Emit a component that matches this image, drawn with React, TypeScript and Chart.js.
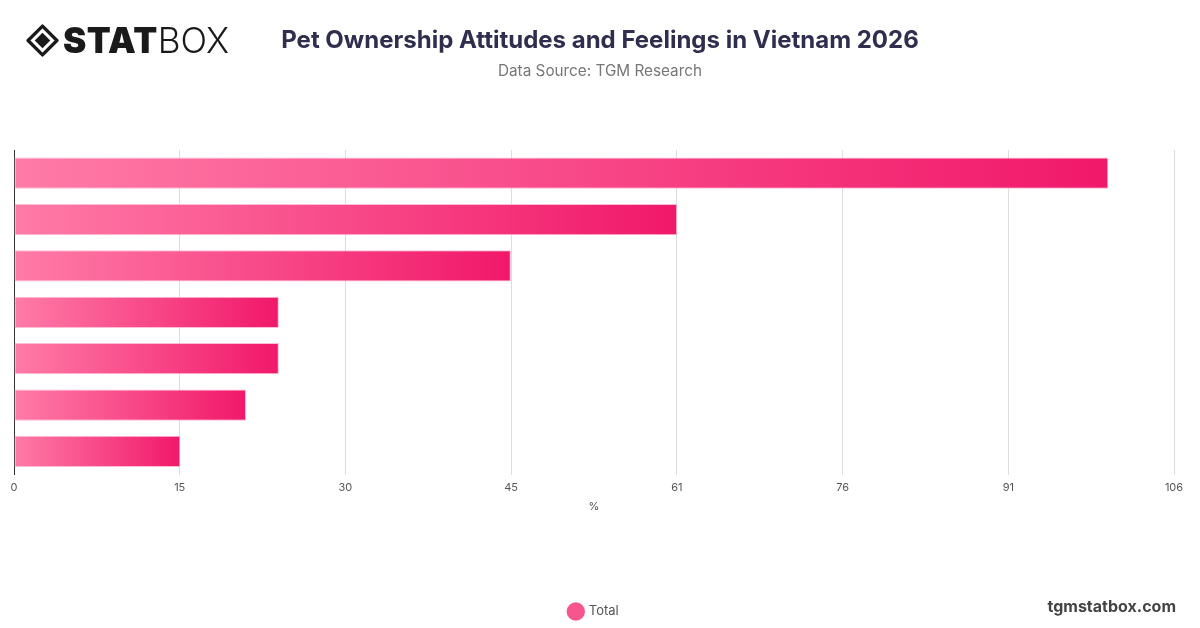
import React, { useEffect, useRef } from "react";
import { Chart, registerables } from "chart.js";

Chart.register(...registerables);

const categories = [
  "Pets are part of the family",
  "Pets reduce stress",
  "Pets bring happiness",
  "Pets provide companionship",
  "Pets make me more active",
  "Pets help socialising",
  "Pets are a responsibility",
];
const totalValues = [100, 60.6, 45.4, 24.2, 24.2, 21.2, 15.2];
const seriesLabel = "Total";
const axisMax = 106;
const tickCount = 7;

export default function App() {
  const canvasRef = useRef<HTMLCanvasElement | null>(null);

  useEffect(() => {
    document.body.style.margin = "0";
    const canvas = canvasRef.current;
    if (!canvas) return;
    const chart = new Chart(canvas, {
      type: "bar",
      data: {
        labels: categories,
        datasets: [
          {
            label: seriesLabel,
            data: totalValues,
            backgroundColor: (ctx: any) => {
              const c = ctx.chart;
              const xs = c.scales && c.scales.x;
              if (!xs || ctx.type !== "data") return "#f7558e";
              const v = ctx.raw as number;
              const x0 = xs.getPixelForValue(0);
              const x1 = xs.getPixelForValue(v);
              if (!isFinite(x0) || !isFinite(x1) || x1 <= x0) return "#f7558e";
              const g = c.ctx.createLinearGradient(x0, 0, x1, 0);
              g.addColorStop(0, "#ff7ba7");
              g.addColorStop(1, "#f1186a");
              return g;
            },
            borderColor: "rgba(255,160,195,0.7)",
            borderWidth: 1,
            borderSkipped: false,
            barPercentage: 0.9,
            categoryPercentage: 0.75,
          },
        ],
      },
      options: {
        indexAxis: "y",
        animation: false,
        responsive: false,
        maintainAspectRatio: false,
        layout: { padding: { top: 150, left: 14, right: 26, bottom: 0 } },
        scales: {
          x: {
            min: 0,
            max: axisMax,
            ticks: {
              stepSize: axisMax / tickCount,
              callback: (v: any) => String(Math.round(Number(v))),
              color: "#555",
              font: { family: "Inter, 'Noto Sans', sans-serif", size: 11 },
              padding: 6,
              maxRotation: 0,
            },
            grid: { color: "#dedede", drawTicks: false },
            border: { display: false },
            title: {
              display: true,
              text: "%",
              color: "#555",
              font: { family: "Inter, 'Noto Sans', sans-serif", size: 11 },
              padding: { top: 0, bottom: 82 },
            },
          },
          y: {
            ticks: { display: false },
            grid: { display: false, drawTicks: false },
            border: { display: true, color: "#333", width: 1 },
          },
        },
        plugins: {
          legend: {
            position: "bottom",
            labels: {
              usePointStyle: true,
              pointStyle: "circle",
              boxWidth: 13,
              boxHeight: 13,
              padding: 10,
              color: "#555",
              font: { family: "Inter, 'Noto Sans', sans-serif", size: 13 },
              generateLabels: () => [
                {
                  text: seriesLabel,
                  fillStyle: "#f7558e",
                  strokeStyle: "#f7558e",
                  lineWidth: 0,
                  pointStyle: "circle",
                  hidden: false,
                  datasetIndex: 0,
                  fontColor: "#555",
                },
              ],
            },
          },
          tooltip: { enabled: false },
        },
      },
    } as any);
    return () => chart.destroy();
  }, []);

  return (
    <div
      style={{
        position: "relative",
        width: 1200,
        height: 628,
        background: "#fff",
        overflow: "hidden",
        fontFamily: "Inter, 'Noto Sans', sans-serif",
      }}
    >
      <canvas
        ref={canvasRef}
        width={1200}
        height={628}
        style={{ position: "absolute", left: 0, top: 0, width: 1200, height: 628 }}
      />
      <div
        style={{
          position: "absolute",
          left: 26,
          top: 22,
          height: 36,
          display: "flex",
          alignItems: "center",
        }}
      >
        <svg width="33" height="33" viewBox="0 0 32 32" style={{ marginRight: 4 }}>
          <path
            d="M16 2 L30 16 L16 30 L2 16 Z"
            fill="none"
            stroke="#1a1a1a"
            strokeWidth="3.2"
            strokeLinejoin="round"
          />
          <path d="M16 8.5 L23.5 16 L16 23.5 L8.5 16 Z" fill="#1a1a1a" />
        </svg>
        <span
          style={{
            fontSize: 35,
            fontWeight: 900,
            color: "#1a1a1a",
            letterSpacing: 0.5,
            lineHeight: "36px",
          }}
        >
          STAT
        </span>
        <span
          style={{
            fontSize: 35,
            fontWeight: 300,
            color: "#1a1a1a",
            lineHeight: "36px",
          }}
        >
          BOX
        </span>
      </div>
      <div
        style={{
          position: "absolute",
          left: 0,
          width: 1200,
          top: 24,
          textAlign: "center",
          fontSize: 24,
          fontWeight: 700,
          color: "#2f2e4f",
          lineHeight: "32px",
        }}
      >
        Pet Ownership Attitudes and Feelings in Vietnam 2026
      </div>
      <div
        style={{
          position: "absolute",
          left: 0,
          width: 1200,
          top: 60,
          textAlign: "center",
          fontSize: 15.3,
          color: "#777",
          lineHeight: "22px",
        }}
      >
        Data Source: TGM Research
      </div>
      <div
        style={{
          position: "absolute",
          right: 24,
          top: 595,
          fontSize: 16,
          fontWeight: 700,
          color: "#444",
          lineHeight: "22px",
        }}
      >
        tgmstatbox.com
      </div>
    </div>
  );
}
